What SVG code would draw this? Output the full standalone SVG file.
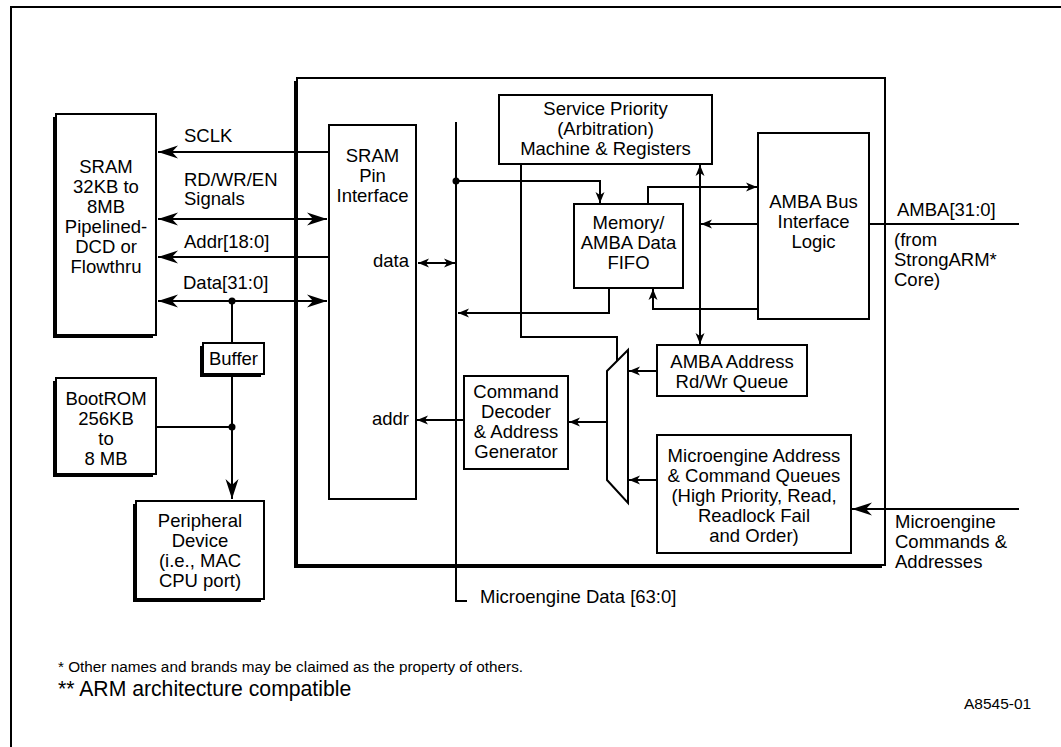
<svg xmlns="http://www.w3.org/2000/svg" width="1061" height="747" viewBox="0 0 1061 747">
<defs>
<style>
.box{fill:#fff;stroke:#000;stroke-width:2}
.sh{fill:#000}
.ln{fill:none;stroke:#000;stroke-width:2}
.big{marker-end:url(#big)}
.big2{marker-start:url(#big);marker-end:url(#big)}
.sm{marker-end:url(#sm)}
.sm2{marker-start:url(#sm);marker-end:url(#sm)}
text{font-family:"Liberation Sans",Arial,Helvetica,sans-serif;font-size:18.5px;fill:#000}
.c{text-anchor:middle}
.r{text-anchor:end}
</style>
<marker id="big" viewBox="-22 -8 24 16" refX="0" refY="0" markerWidth="24" markerHeight="16" markerUnits="userSpaceOnUse" orient="auto-start-reverse"><path d="M0,0 L-20,-6.5 L-14,0 L-20,6.5 Z" fill="#000"/></marker>
<marker id="sm" viewBox="-13 -6 14 12" refX="0" refY="0" markerWidth="14" markerHeight="12" markerUnits="userSpaceOnUse" orient="auto-start-reverse"><path d="M0,0 L-11,-4.5 L-8,0 L-11,4.5 Z" fill="#000"/></marker>
</defs>
<rect x="0" y="0" width="1061" height="747" fill="#fff"/>
<path id="frame" class="ln" d="M1061,7 H11 V747"/>

<g id="soc"><rect class="sh" x="294" y="81" width="588" height="487"/><rect class="box" x="297" y="78" width="588" height="487"/></g>

<g id="connectors">
<path class="ln big" d="M329,152 H158"/>
<path class="ln big2" d="M158,219 H327"/>
<path class="ln big" d="M329,257 H158"/>
<path class="ln big2" d="M158,301 H327"/>
<path class="ln" d="M232,301 V343"/>
<path class="ln big" d="M232,374 V499"/>
<path class="ln" d="M156,427 H232"/>
<circle cx="232" cy="301" r="3.5"/>
<circle cx="232" cy="427" r="3.5"/>
<path class="ln sm2" d="M418,263 H455"/>
<path class="ln" d="M456,122 V601 H467"/>
<circle cx="456" cy="181" r="3.5"/>
<path class="ln sm" d="M456,181 H600 V203"/>
<path class="ln sm" d="M648,204 V187 H757"/>
<path class="ln sm" d="M758,224 H701"/>
<path class="ln sm2" d="M700,165 V344"/>
<path class="ln sm" d="M758,309 H653 V289"/>
<path class="ln sm" d="M609,288 V313 H458"/>
<path class="ln" d="M521,164 V337 H617 V361"/>
<path class="ln sm" d="M657,371 H629"/>
<path class="ln sm" d="M657,480 H629"/>
<path class="ln sm" d="M607,422 H569"/>
<path class="ln sm" d="M464,420 H417"/>
<path class="ln" d="M869,224 H1019"/>
<path class="ln big" d="M1019,509 H852"/>
</g>

<g id="sram"><rect class="sh" x="53" y="117" width="100" height="221"/><rect class="box" x="56" y="114" width="100" height="221"/>
<text class="c"><tspan x="106" y="173">SRAM</tspan><tspan x="106" y="193">32KB to</tspan><tspan x="106" y="213">8MB</tspan><tspan x="106" y="233">Pipelined-</tspan><tspan x="106" y="253">DCD or</tspan><tspan x="106" y="273">Flowthru</tspan></text></g>

<g id="labels-left">
<text x="184" y="142">SCLK</text>
<text><tspan x="184" y="186">RD/WR/EN</tspan><tspan x="184" y="205">Signals</tspan></text>
<text x="184" y="248">Addr[18:0]</text>
<text x="183" y="289">Data[31:0]</text>
</g>

<g id="buffer"><rect class="sh" x="200" y="346" width="61" height="31"/><rect class="box" x="203" y="343" width="61" height="31"/><text class="c" x="233.5" y="365">Buffer</text></g>

<g id="bootrom"><rect class="sh" x="53" y="381" width="100" height="96"/><rect class="box" x="56" y="378" width="100" height="96"/>
<text class="c"><tspan x="106" y="405">BootROM</tspan><tspan x="106" y="425">256KB</tspan><tspan x="106" y="445">to</tspan><tspan x="106" y="465">8 MB</tspan></text></g>

<g id="peripheral"><rect class="sh" x="133" y="504" width="128" height="98"/><rect class="box" x="136" y="501" width="128" height="98"/>
<text class="c"><tspan x="200" y="527">Peripheral</tspan><tspan x="200" y="547">Device</tspan><tspan x="200" y="567">(i.e., MAC</tspan><tspan x="200" y="587">CPU port)</tspan></text></g>

<g id="pin"><rect class="box" x="329" y="125" width="87" height="374"/>
<text class="c"><tspan x="372.5" y="162">SRAM</tspan><tspan x="372.5" y="182">Pin</tspan><tspan x="372.5" y="202">Interface</tspan></text>
<text class="r" x="409" y="267">data</text>
<text class="r" x="409" y="425">addr</text></g>

<g id="svcprio"><rect class="box" x="499" y="95" width="213" height="69"/>
<text class="c"><tspan x="605.5" y="115">Service Priority</tspan><tspan x="605.5" y="135">(Arbitration)</tspan><tspan x="605.5" y="155">Machine &amp; Registers</tspan></text></g>

<g id="fifo"><rect class="box" x="574" y="204" width="109" height="84"/>
<text class="c"><tspan x="628.5" y="229">Memory/</tspan><tspan x="628.5" y="249">AMBA Data</tspan><tspan x="628.5" y="269">FIFO</tspan></text></g>

<g id="ambabus"><rect class="box" x="758" y="133" width="111" height="186"/>
<text class="c"><tspan x="813.5" y="208">AMBA Bus</tspan><tspan x="813.5" y="228">Interface</tspan><tspan x="813.5" y="248">Logic</tspan></text></g>

<g id="ambaaddr"><rect class="box" x="657" y="345" width="150" height="51"/>
<text class="c"><tspan x="732" y="368">AMBA Address</tspan><tspan x="732" y="388">Rd/Wr Queue</tspan></text></g>

<g id="cmddec"><rect class="box" x="464" y="376" width="104" height="93"/>
<text class="c"><tspan x="516" y="398">Command</tspan><tspan x="516" y="418">Decoder</tspan><tspan x="516" y="438">&amp; Address</tspan><tspan x="516" y="458">Generator</tspan></text></g>

<g id="mux"><polygon class="box" points="607,371 628,350 628,503 607,480"/></g>

<g id="mequeues"><rect class="box" x="657" y="435" width="194" height="118"/>
<text class="c"><tspan x="754" y="462">Microengine Address</tspan><tspan x="754" y="482">&amp; Command Queues</tspan><tspan x="754" y="502">(High Priority, Read,</tspan><tspan x="754" y="522">Readlock Fail</tspan><tspan x="754" y="542">and Order)</tspan></text></g>

<g id="labels-right">
<text x="897" y="216">AMBA[31:0]</text>
<text><tspan x="894" y="246">(from</tspan><tspan x="894" y="266">StrongARM*</tspan><tspan x="894" y="286">Core)</tspan></text>
<text><tspan x="895" y="528">Microengine</tspan><tspan x="895" y="548">Commands &amp;</tspan><tspan x="895" y="568">Addresses</tspan></text>
<text x="480" y="603">Microengine Data [63:0]</text>
</g>

<g id="notes">
<text x="58" y="672" style="font-size:15.3px">* Other names and brands may be claimed as the property of others.</text>
<text x="58" y="696" style="font-size:21.2px">** ARM architecture compatible</text>
<text x="964" y="709" style="font-size:15.5px">A8545-01</text>
</g>
</svg>
